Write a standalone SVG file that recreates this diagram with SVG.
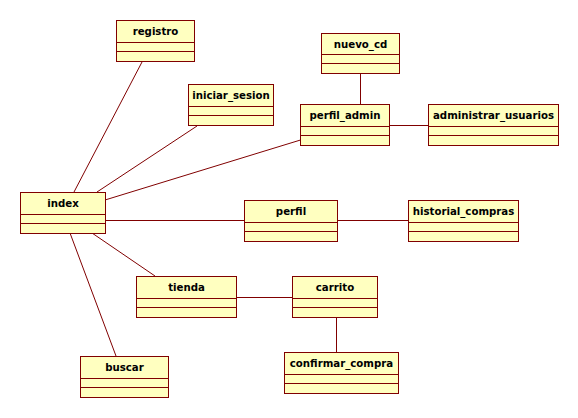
<svg xmlns="http://www.w3.org/2000/svg" width="578" height="418" viewBox="0 0 578 418">
  <style>
    .box { fill: #ffffc0; stroke: #800000; stroke-width: 1; }
    .sep { stroke: #800000; stroke-width: 1; }
    .name { font-family: "DejaVu Sans", Verdana, sans-serif; font-weight: bold; font-size: 10.2px; fill: #000; text-anchor: middle; }
    .link { stroke: #800000; stroke-width: 1; fill: none; }
  </style>
  <rect width="578" height="418" fill="#ffffff"/>

  <!-- associations -->
  <g id="connectors">
    <line class="link" x1="142" y1="62" x2="74" y2="192"/>
    <line class="link" x1="197" y1="126" x2="97" y2="192"/>
    <line class="link" x1="300.5" y1="140" x2="105" y2="200"/>
    <line class="link" x1="105" y1="220.5" x2="244" y2="220.5"/>
    <line class="link" x1="337" y1="220.5" x2="408" y2="220.5"/>
    <line class="link" x1="389" y1="125.5" x2="428" y2="125.5"/>
    <line class="link" x1="360.5" y1="73" x2="360.5" y2="104"/>
    <line class="link" x1="92" y1="233" x2="155" y2="276"/>
    <line class="link" x1="70" y1="233" x2="116" y2="356"/>
    <line class="link" x1="236" y1="297.5" x2="292" y2="297.5"/>
    <line class="link" x1="336.5" y1="317" x2="336.5" y2="352"/>
  </g>

  <!-- classes -->
  <g id="registro">
    <rect class="box" x="116.5" y="20.5" width="78" height="41"/>
    <line class="sep" x1="116.5" y1="42.5" x2="194.5" y2="42.5"/>
    <line class="sep" x1="116.5" y1="51.5" x2="194.5" y2="51.5"/>
    <text class="name" x="155.5" y="35">registro</text>
  </g>

  <g id="nuevo_cd">
    <rect class="box" x="321.5" y="33.5" width="78" height="40"/>
    <line class="sep" x1="321.5" y1="54.5" x2="399.5" y2="54.5"/>
    <line class="sep" x1="321.5" y1="63.5" x2="399.5" y2="63.5"/>
    <text class="name" x="360.5" y="48">nuevo_cd</text>
  </g>

  <g id="iniciar_sesion">
    <rect class="box" x="188.5" y="84.5" width="85" height="41"/>
    <line class="sep" x1="188.5" y1="106.5" x2="273.5" y2="106.5"/>
    <line class="sep" x1="188.5" y1="115.5" x2="273.5" y2="115.5"/>
    <text class="name" x="231" y="99">iniciar_sesion</text>
  </g>

  <g id="perfil_admin">
    <rect class="box" x="300.5" y="104.5" width="89" height="41"/>
    <line class="sep" x1="300.5" y1="126.5" x2="389.5" y2="126.5"/>
    <line class="sep" x1="300.5" y1="135.5" x2="389.5" y2="135.5"/>
    <text class="name" x="345" y="119">perfil_admin</text>
  </g>

  <g id="administrar_usuarios">
    <rect class="box" x="428.5" y="104.5" width="130" height="41"/>
    <line class="sep" x1="428.5" y1="126.5" x2="558.5" y2="126.5"/>
    <line class="sep" x1="428.5" y1="135.5" x2="558.5" y2="135.5"/>
    <text class="name" x="493.5" y="119">administrar_usuarios</text>
  </g>

  <g id="index">
    <rect class="box" x="20.5" y="192.5" width="85" height="41"/>
    <line class="sep" x1="20.5" y1="214.5" x2="105.5" y2="214.5"/>
    <line class="sep" x1="20.5" y1="223.5" x2="105.5" y2="223.5"/>
    <text class="name" x="63" y="207">index</text>
  </g>

  <g id="perfil">
    <rect class="box" x="244.5" y="200.5" width="93" height="41"/>
    <line class="sep" x1="244.5" y1="222.5" x2="337.5" y2="222.5"/>
    <line class="sep" x1="244.5" y1="231.5" x2="337.5" y2="231.5"/>
    <text class="name" x="291" y="215">perfil</text>
  </g>

  <g id="historial_compras">
    <rect class="box" x="408.5" y="200.5" width="110" height="41"/>
    <line class="sep" x1="408.5" y1="222.5" x2="518.5" y2="222.5"/>
    <line class="sep" x1="408.5" y1="231.5" x2="518.5" y2="231.5"/>
    <text class="name" x="463.5" y="215">historial_compras</text>
  </g>

  <g id="tienda">
    <rect class="box" x="136.5" y="276.5" width="100" height="41"/>
    <line class="sep" x1="136.5" y1="298.5" x2="236.5" y2="298.5"/>
    <line class="sep" x1="136.5" y1="307.5" x2="236.5" y2="307.5"/>
    <text class="name" x="186.5" y="291">tienda</text>
  </g>

  <g id="carrito">
    <rect class="box" x="292.5" y="276.5" width="85" height="41"/>
    <line class="sep" x1="292.5" y1="298.5" x2="377.5" y2="298.5"/>
    <line class="sep" x1="292.5" y1="307.5" x2="377.5" y2="307.5"/>
    <text class="name" x="335" y="291">carrito</text>
  </g>

  <g id="confirmar_compra">
    <rect class="box" x="284.5" y="352.5" width="114" height="41"/>
    <line class="sep" x1="284.5" y1="374.5" x2="398.5" y2="374.5"/>
    <line class="sep" x1="284.5" y1="383.5" x2="398.5" y2="383.5"/>
    <text class="name" x="341.5" y="367">confirmar_compra</text>
  </g>

  <g id="buscar">
    <rect class="box" x="80.5" y="356.5" width="88" height="41"/>
    <line class="sep" x1="80.5" y1="378.5" x2="168.5" y2="378.5"/>
    <line class="sep" x1="80.5" y1="387.5" x2="168.5" y2="387.5"/>
    <text class="name" x="124.5" y="371">buscar</text>
  </g>
</svg>
